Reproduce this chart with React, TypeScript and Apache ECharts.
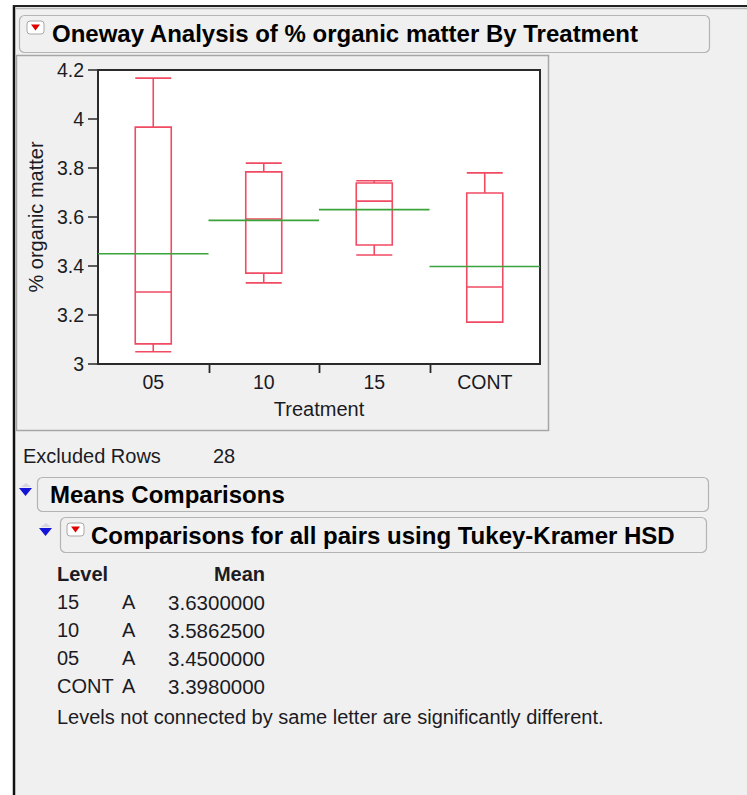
import React, { useEffect, useRef } from "react";
import * as echarts from "echarts";

const categories = ["05", "10", "15", "CONT"];
// [min, Q1, median, Q3, max]
const boxValues = [
  [3.05, 3.082, 3.294, 3.967, 4.167],
  [3.331, 3.371, 3.592, 3.784, 3.82],
  [3.445, 3.486, 3.665, 3.739, 3.748],
  [3.171, 3.171, 3.314, 3.698, 3.78],
];
const means = [3.45, 3.58625, 3.63, 3.398];
const yTicks = { min: 3, max: 4.2, interval: 0.2 };

const tableLevels = ["15", "10", "05", "CONT"];
const tableLetters = ["A", "A", "A", "A"];
const tableMeans = ["3.6300000", "3.5862500", "3.4500000", "3.3980000"];

const FONT = "'Liberation Sans', Arial, sans-serif";
const TXT = "#1b1b24";
const RED = "#f04b62";
const GREEN = "#3ba33b";
const BG = "#f0f0f0";
const BORDER = "#b4b4b4";

function redIcon(x: number, y: number) {
  return [
    {
      type: "rect",
      shape: { x, y, width: 17, height: 13, r: 3 },
      style: { fill: "#ffffff", stroke: "#a8a8a8", lineWidth: 1 },
    },
    {
      type: "polygon",
      shape: { points: [[x + 4, y + 3.5], [x + 13, y + 3.5], [x + 8.5, y + 9.5]] },
      style: { fill: "#e00000" },
    },
  ];
}

function blueTri(x: number, y: number) {
  return [
    {
      type: "polygon",
      shape: { points: [[x + 6, y - 4], [x + 11, y], [x + 1, y]] },
      style: { fill: "#d4d4e4" },
    },
    {
      type: "polygon",
      shape: { points: [[x - 1, y + 1], [x + 12, y + 1], [x + 5.5, y + 9]] },
      style: { fill: "#1414d8" },
    },
  ];
}

export default function App() {
  const ref = useRef<HTMLDivElement>(null);
  useEffect(() => {
    if (!ref.current) return;
    const chart = echarts.init(ref.current, null, { renderer: "svg" });

    const tableTexts: any[] = [];
    tableTexts.push({
      type: "text", x: 57, y: 574,
      style: { text: "Level", font: `bold 20px ${FONT}`, fill: TXT, textVerticalAlign: "middle" },
    });
    tableTexts.push({
      type: "text", x: 265, y: 574,
      style: { text: "Mean", font: `bold 20px ${FONT}`, fill: TXT, textAlign: "right", textVerticalAlign: "middle" },
    });
    tableLevels.forEach((lv, i) => {
      const y = 602 + i * 28;
      tableTexts.push({
        type: "text", x: 57, y,
        style: { text: lv, font: `20px ${FONT}`, fill: TXT, textVerticalAlign: "middle" },
      });
      tableTexts.push({
        type: "text", x: 122, y,
        style: { text: tableLetters[i], font: `20px ${FONT}`, fill: TXT, textVerticalAlign: "middle" },
      });
      tableTexts.push({
        type: "text", x: 265, y,
        style: { text: tableMeans[i], font: `20.5px ${FONT}`, fill: TXT, textAlign: "right", textVerticalAlign: "middle" },
      });
    });
    tableTexts.push({
      type: "text", x: 57, y: 717,
      style: {
        text: "Levels not connected by same letter are significantly different.",
        font: `20px ${FONT}`, fill: TXT, textVerticalAlign: "middle",
      },
    });

    const option: any = {
      animation: false,
      backgroundColor: "#ffffff",
      textStyle: { fontFamily: FONT },
      grid: {
        left: 98, top: 70, width: 442, height: 294,
        show: true, backgroundColor: "#ffffff", borderColor: "#2a2a2a", borderWidth: 2,
        z: 2,
      },
      xAxis: {
        type: "category",
        data: categories,
        name: "Treatment",
        nameLocation: "middle",
        nameGap: 35,
        nameTextStyle: { fontSize: 20, color: TXT, fontFamily: FONT },
        axisLine: { show: true, lineStyle: { color: "#2a2a2a", width: 2 } },
        axisTick: { show: false },
        axisLabel: { fontSize: 19.5, color: TXT, fontFamily: FONT, margin: 8 },
        splitLine: { show: false },
      },
      yAxis: {
        type: "value",
        min: yTicks.min,
        max: yTicks.max,
        interval: yTicks.interval,
        name: "% organic matter",
        nameLocation: "middle",
        nameGap: 47,
        nameTextStyle: { fontSize: 20, color: TXT, fontFamily: FONT },
        axisLine: { show: true, lineStyle: { color: "#2a2a2a", width: 2 } },
        axisTick: { show: true, inside: false, length: 10, lineStyle: { color: "#2a2a2a", width: 1.5 } },
        axisLabel: { fontSize: 19.5, color: TXT, fontFamily: FONT, margin: 14 },
        splitLine: { show: false },
      },
      series: [
        {
          type: "boxplot",
          data: boxValues,
          boxWidth: [36, 36],
          itemStyle: { color: "rgba(255,255,255,0)", borderColor: RED, borderWidth: 1.6 },
          z: 3,
        },
        {
          type: "custom",
          data: categories.map((c, i) => [i, means[i]]),
          renderItem: (params: any, api: any) => {
            const pt = api.coord([api.value(0), api.value(1)]);
            const w = api.size([1, 0])[0];
            return {
              type: "line",
              shape: { x1: pt[0] - w / 2, y1: pt[1], x2: pt[0] + w / 2, y2: pt[1] },
              style: { stroke: GREEN, lineWidth: 1.6 },
            };
          },
          z: 4,
        },
        {
          type: "custom",
          clip: false,
          data: categories.slice(1).map((c, i) => [i + 1, yTicks.min]),
          renderItem: (params: any, api: any) => {
            const pt = api.coord([api.value(0), api.value(1)]);
            const w = api.size([1, 0])[0];
            const x = Math.round(pt[0] - w / 2) + 0.5;
            return {
              type: "line",
              shape: { x1: x, y1: pt[1] + 1, x2: x, y2: pt[1] + 9 },
              style: { stroke: "#2a2a2a", lineWidth: 1.8 },
            };
          },
          z: 5,
        },
      ],
      graphic: [
        {
          type: "rect", z: -10,
          shape: { x: 13, y: 5, width: 734, height: 790 },
          style: { fill: BG },
        },
        {
          type: "line", z: -9,
          shape: { x1: 14, y1: 5, x2: 14, y2: 795 },
          style: { stroke: "#111111", lineWidth: 2.5 },
        },
        {
          type: "line", z: -9,
          shape: { x1: 13, y1: 6, x2: 747, y2: 6 },
          style: { stroke: "#222222", lineWidth: 2 },
        },
        {
          type: "line", z: -9,
          shape: { x1: 16, y1: 8.5, x2: 747, y2: 8.5 },
          style: { stroke: "#b8b8b8", lineWidth: 1.5 },
        },
        {
          type: "rect", z: -8,
          shape: { x: 19.5, y: 15.5, width: 690, height: 37, r: 5 },
          style: { fill: BG, stroke: BORDER, lineWidth: 1.2 },
        },
        ...redIcon(27, 21),
        {
          type: "text", x: 52, y: 33,
          style: {
            text: "Oneway Analysis of % organic matter By Treatment",
            font: `bold 24px ${FONT}`, fill: "#000000", textVerticalAlign: "middle",
          },
        },
        {
          type: "rect", z: -8,
          shape: { x: 16.5, y: 55.5, width: 532, height: 375 },
          style: { fill: BG, stroke: "#a6a6a6", lineWidth: 1.5 },
        },
        {
          type: "text", x: 23, y: 456,
          style: { text: "Excluded Rows", font: `20px ${FONT}`, fill: TXT, textVerticalAlign: "middle" },
        },
        {
          type: "text", x: 213, y: 456,
          style: { text: "28", font: `20px ${FONT}`, fill: TXT, textVerticalAlign: "middle" },
        },
        ...blueTri(20, 487),
        {
          type: "rect", z: -8,
          shape: { x: 37.5, y: 477.5, width: 671, height: 34, r: 5 },
          style: { fill: BG, stroke: BORDER, lineWidth: 1.2 },
        },
        {
          type: "text", x: 50, y: 494,
          style: { text: "Means Comparisons", font: `bold 24px ${FONT}`, fill: "#000000", textVerticalAlign: "middle" },
        },
        ...blueTri(40, 527),
        {
          type: "rect", z: -8,
          shape: { x: 60.5, y: 517.5, width: 646, height: 35, r: 5 },
          style: { fill: BG, stroke: BORDER, lineWidth: 1.2 },
        },
        ...redIcon(67, 523),
        {
          type: "text", x: 91, y: 535,
          style: {
            text: "Comparisons for all pairs using Tukey-Kramer HSD",
            font: `bold 24px ${FONT}`, fill: "#000000", textVerticalAlign: "middle",
          },
        },
        ...tableTexts,
      ],
    };
    chart.setOption(option);
    return () => chart.dispose();
  }, []);

  return (
    <div
      ref={ref}
      style={{ position: "absolute", left: 0, top: 0, width: 747, height: 795 }}
    />
  );
}
